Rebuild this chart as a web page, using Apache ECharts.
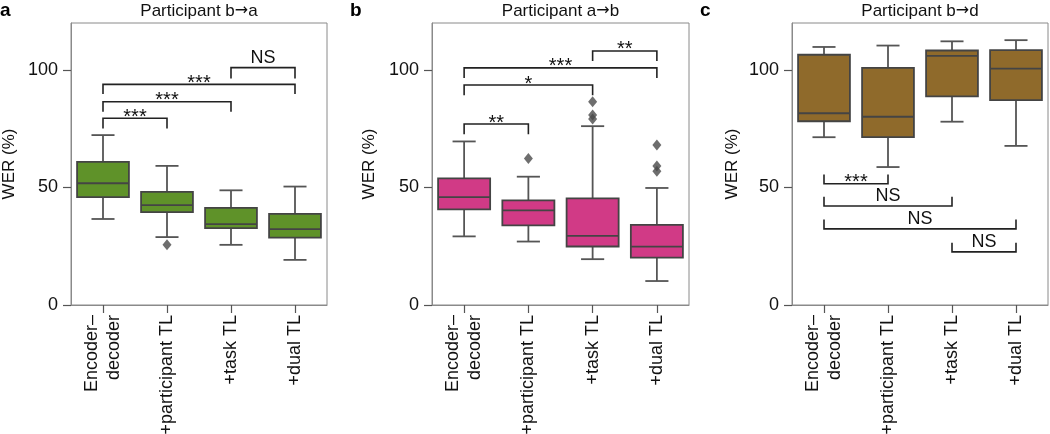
<!DOCTYPE html>
<html><head><meta charset="utf-8">
<script src="https://cdn.jsdelivr.net/npm/echarts@6/dist/echarts.min.js"></script>
<style>html,body{margin:0;padding:0;background:#fff}#c{width:1050px;height:434px}</style>
</head><body><div id="c"></div>
<script>
// ---------- data ----------
const categories = ['Encoder–\ndecoder', '+participant TL', '+task TL', '+dual TL'];
const yTicks = [0, 50, 100];
const titleParts = [['Participant b', '→', 'a'], ['Participant a', '→', 'b'], ['Participant b', '→', 'd']];
const panelLetters = ['a', 'b', 'c'];
const yAxisName = 'WER (%)';

// [low whisker, Q1, median, Q3, high whisker]
const boxesA = [[36.6, 45.9, 51.8, 60.9, 72.3], [28.9, 39.5, 42.5, 48.1, 59.2], [25.6, 32.7, 34.4, 41.3, 48.8], [19.2, 28.7, 32.3, 38.8, 50.4]];
const boxesB = [[29.2, 40.7, 45.9, 53.9, 69.6], [27.0, 33.9, 40.3, 44.5, 54.6], [19.5, 24.9, 29.4, 45.4, 76.1], [10.2, 20.2, 24.8, 34.1, 49.8]];
const boxesC = [[71.4, 78.2, 81.6, 106.5, 109.8], [58.7, 71.4, 80.1, 100.9, 110.4], [78.0, 88.8, 106.0, 108.3, 112.2], [67.7, 87.2, 100.6, 108.5, 112.7]];

// [category index, value]
const outliersA = [[1, 25.6]];
const outliersB = [[1, 62.3], [2, 86.5], [2, 80.9], [2, 79.1], [3, 68.1], [3, 59.2], [3, 56.9]];
const outliersC = [];

// [from category, to category, bar level, tick end level, label]
const bracketsA = [[0, 1, 79.5, 75.1, '***'], [0, 2, 86.5, 82.2, '***'], [0, 3, 93.9, 89.8, '***'], [2, 3, 101.0, 96.4, 'NS']];
const bracketsB = [[0, 1, 77.0, 72.7, '**'], [0, 2, 93.6, 89.3, '*'], [0, 3, 100.9, 96.6, '***'], [2, 3, 108.1, 103.8, '**']];
const bracketsC = [[0, 1, 51.6, 55.5, '***'], [0, 2, 42.1, 46.1, 'NS'], [0, 3, 32.4, 36.4, 'NS'], [2, 3, 22.6, 26.5, 'NS']];

// ---------- styling / layout ----------
const FONT = '"Liberation Sans", Arial, Helvetica, sans-serif';
const colors = ['#5f9229', '#d13a86', '#8f6a2b'];
const grids = [
  { left: 71, top: 23, width: 256, height: 282 },
  { left: 432, top: 23, width: 257, height: 282 },
  { left: 792, top: 23, width: 256, height: 282 }
];
const letterX = [0, 350, 700];
const nameGaps = [53, 54, 51];
const panels = [
  { boxes: boxesA, outliers: outliersA, brackets: bracketsA },
  { boxes: boxesB, outliers: outliersB, brackets: bracketsB },
  { boxes: boxesC, outliers: outliersC, brackets: bracketsC }
];

const chart = echarts.init(document.getElementById('c'), null, { renderer: 'canvas' });

const option = {
  animation: false,
  grid: grids.map(g => Object.assign({ show: true, borderColor: '#8a8a8a', borderWidth: 1, backgroundColor: 'transparent', containLabel: false, outerBoundsMode: 'none' }, g)),
  xAxis: grids.map((g, i) => ({
    type: 'category', gridIndex: i, data: categories, boundaryGap: true,
    axisLine: { show: true, lineStyle: { color: '#8a8a8a', width: 1 } },
    axisTick: { show: true, alignWithLabel: true, length: 8, lineStyle: { color: '#555', width: 1.2 } },
    axisLabel: { rotate: 90, margin: 10, fontSize: 18, color: '#111', fontFamily: FONT, lineHeight: 22, interval: 0 },
    splitLine: { show: false }
  })),
  yAxis: grids.map((g, i) => ({
    type: 'value', gridIndex: i, min: 0, max: 120,
    name: yAxisName, nameLocation: 'middle', nameGap: nameGaps[i],
    nameTextStyle: { fontSize: 17, color: '#111', fontFamily: FONT },
    axisLine: { show: true, lineStyle: { color: '#8a8a8a', width: 1 } },
    axisTick: { show: true, length: 8, customValues: yTicks, lineStyle: { color: '#555', width: 1.2 } },
    axisLabel: { margin: 13, fontSize: 18, color: '#111', fontFamily: FONT, customValues: yTicks },
    splitLine: { show: false }
  })),
  graphic: [],
  series: []
};

grids.forEach((g, i) => {
  const tp = titleParts[i];
  option.graphic.push({
    type: 'text', x: g.left + g.width / 2, y: 11,
    style: {
      text: tp[0] + '{arr|' + tp[1] + '}' + tp[2], align: 'center', verticalAlign: 'middle',
      font: '17px ' + FONT, fill: '#111',
      rich: { arr: { fontFamily: '"DejaVu Sans", sans-serif', fontSize: 16, fill: '#111', color: '#111' } }
    }
  });
  option.graphic.push({
    type: 'text', x: letterX[i], y: 11,
    style: { text: panelLetters[i], align: 'left', verticalAlign: 'middle', font: 'bold 19px ' + FONT, fill: '#000' }
  });
});

panels.forEach((p, i) => {
  const boxData = p.boxes.map((b, k) => [k].concat(b));
  option.series.push({
    type: 'custom', xAxisIndex: i, yAxisIndex: i, z: 2,
    data: boxData,
    encode: { x: 0, y: [1, 2, 3, 4, 5] },
    renderItem: function (params, api) {
      const k = api.value(0);
      const lo = api.coord([k, api.value(1)]);
      const q1 = api.coord([k, api.value(2)]);
      const md = api.coord([k, api.value(3)]);
      const q3 = api.coord([k, api.value(4)]);
      const hi = api.coord([k, api.value(5)]);
      const band = api.size([1, 0])[0];
      const x = lo[0];
      const bw = band * 0.81;
      const cw = band * 0.36;
      const wStyle = { stroke: '#555', lineWidth: 1.8 };
      const oStyle = { stroke: '#444', lineWidth: 1.8 };
      return {
        type: 'group',
        children: [
          { type: 'line', shape: { x1: x, y1: lo[1], x2: x, y2: q1[1] }, style: wStyle },
          { type: 'line', shape: { x1: x, y1: q3[1], x2: x, y2: hi[1] }, style: wStyle },
          { type: 'line', shape: { x1: x - cw / 2, y1: lo[1], x2: x + cw / 2, y2: lo[1] }, style: wStyle },
          { type: 'line', shape: { x1: x - cw / 2, y1: hi[1], x2: x + cw / 2, y2: hi[1] }, style: wStyle },
          { type: 'rect', shape: { x: x - bw / 2, y: q3[1], width: bw, height: q1[1] - q3[1] }, style: { fill: colors[i], stroke: '#444', lineWidth: 1.8 } },
          { type: 'line', shape: { x1: x - bw / 2, y1: md[1], x2: x + bw / 2, y2: md[1] }, style: oStyle }
        ]
      };
    }
  });
  if (p.outliers.length) {
    option.series.push({
      type: 'scatter', xAxisIndex: i, yAxisIndex: i, z: 3,
      data: p.outliers, symbol: 'diamond', symbolSize: [9, 11],
      itemStyle: { color: '#4a4a4a' }
    });
  }
  const br = p.brackets;
  option.series.push({
    type: 'custom', xAxisIndex: i, yAxisIndex: i, z: 4,
    data: br.map(b => [b[0], b[1], b[2], b[3]]),
    encode: { x: [0, 1], y: [2, 3] },
    renderItem: function (params, api) {
      const a = api.coord([api.value(0), api.value(2)]);
      const b = api.coord([api.value(1), api.value(2)]);
      const t = api.coord([api.value(0), api.value(3)]);
      const label = br[params.dataIndex][4];
      const isStar = label.charAt(0) === '*';
      const cx = (a[0] + b[0]) / 2;
      const ty = a[1] - (isStar ? 1 : 10);
      return {
        type: 'group',
        children: [
          { type: 'polyline', shape: { points: [[a[0], t[1]], [a[0], a[1]], [b[0], a[1]], [b[0], t[1]]] }, style: { stroke: '#222', lineWidth: 1.6, fill: null } },
          { type: 'text', x: cx, y: ty, style: { text: label, align: 'center', verticalAlign: 'middle', font: (isStar ? '20px ' : '18px ') + FONT, fill: '#111' } }
        ]
      };
    }
  });
});

chart.setOption(option);
</script>
</body></html>
